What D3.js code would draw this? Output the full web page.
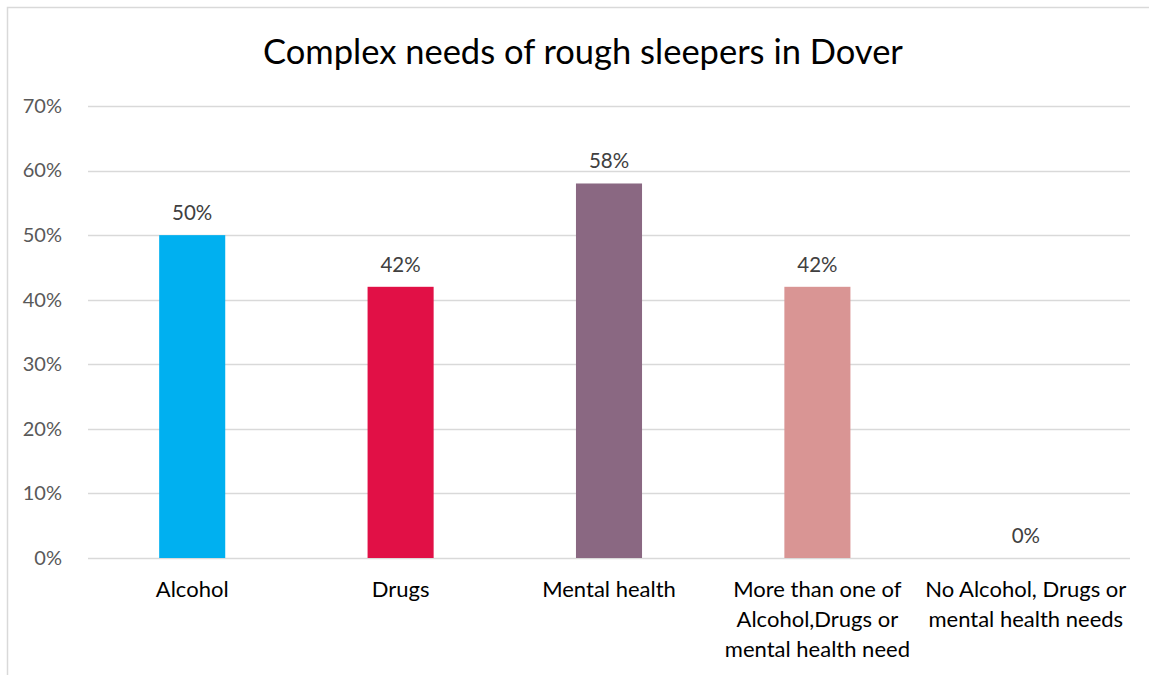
<!DOCTYPE html>
<html>
<head>
<meta charset="utf-8">
<script src="https://cdn.jsdelivr.net/npm/d3@7"></script>
<style>
  body { margin: 0; background: #fff; }
  svg { display: block; }
</style>
</head>
<body>
<div id="vis"></div>
<script>
// chart data
var categories = ["Alcohol", "Drugs", "Mental health",
  "More than one of Alcohol,Drugs or mental health need",
  "No Alcohol, Drugs or mental health needs"];
var categoryLines = [
  ["Alcohol"],
  ["Drugs"],
  ["Mental health"],
  ["More than one of", "Alcohol,Drugs or", "mental health need"],
  ["No Alcohol, Drugs or", "mental health needs"]
];
var values = [0.50, 0.42, 0.58, 0.42, 0.00];
var colors = ["#00B0F0", "#E11046", "#8A6882", "#D99594", "#A5A5A5"];
var yTicks = [0, 0.1, 0.2, 0.3, 0.4, 0.5, 0.6, 0.7];
var title = "Complex needs of rough sleepers in Dover";

var width = 1149, height = 675;
var font = "Lato, 'Open Sans', sans-serif";

var svg = d3.select("#vis").append("svg")
  .attr("width", width)
  .attr("height", height);

// outer chart border (runs off right / bottom edge)
svg.append("rect")
  .attr("x", 7.5).attr("y", 7.5)
  .attr("width", width + 10).attr("height", height + 10)
  .attr("fill", "#fff")
  .attr("stroke", "#D9D9D9")
  .attr("stroke-width", 1.5);

var plot = { left: 88, right: 1130, top: 106, bottom: 558 };

var x = d3.scaleBand()
  .domain(categories)
  .range([plot.left, plot.right])
  .padding(0);
var barW = x.bandwidth() * 0.317;

var y = d3.scaleLinear()
  .domain([0, 0.7])
  .range([plot.bottom, plot.top]);

svg.append("text")
  .attr("x", 583)
  .attr("y", 64)
  .attr("text-anchor", "middle")
  .style("font-family", font)
  .style("font-size", "34.5px")
  .attr("fill", "#000")
  .text(title);

// gridlines
svg.append("g")
  .selectAll("line")
  .data(yTicks)
  .join("line")
  .attr("x1", plot.left).attr("x2", plot.right)
  .attr("y1", d => Math.round(y(d)) + 0.5)
  .attr("y2", d => Math.round(y(d)) + 0.5)
  .attr("stroke", "#D9D9D9")
  .attr("stroke-width", 1.5);

// y axis labels
var yAxis = svg.append("g")
  .attr("transform", "translate(" + (plot.left - 23) + ",0)")
  .call(d3.axisLeft(y).tickValues(yTicks).tickFormat(d3.format(".0%")).tickSize(0));
yAxis.select(".domain").remove();
yAxis.selectAll("text")
  .style("font-family", font)
  .style("font-size", "20px")
  .attr("fill", "#595959");

// bars
svg.append("g")
  .selectAll("rect")
  .data(values)
  .join("rect")
  .attr("x", (d, i) => x(categories[i]) + x.bandwidth() / 2 - barW / 2)
  .attr("y", d => y(d))
  .attr("width", barW)
  .attr("height", d => y(0) - y(d))
  .attr("fill", (d, i) => colors[i]);

// data labels
svg.append("g")
  .selectAll("text")
  .data(values)
  .join("text")
  .attr("x", (d, i) => x(categories[i]) + x.bandwidth() / 2)
  .attr("y", d => y(d) - 15)
  .attr("text-anchor", "middle")
  .style("font-family", font)
  .style("font-size", "20.5px")
  .attr("fill", "#404040")
  .text(d => d3.format(".0%")(d));

// category labels
var cat = svg.append("g")
  .selectAll("text")
  .data(categoryLines)
  .join("text")
  .attr("x", (d, i) => x(categories[i]) + x.bandwidth() / 2)
  .attr("y", 597)
  .attr("text-anchor", "middle")
  .style("font-family", font)
  .style("font-size", "22px")
  .attr("fill", "#000");
cat.selectAll("tspan")
  .data(d => d)
  .join("tspan")
  .attr("x", function () { return this.parentNode.getAttribute("x"); })
  .attr("dy", (d, i) => i === 0 ? 0 : 30)
  .text(d => d);
</script>
</body>
</html>
